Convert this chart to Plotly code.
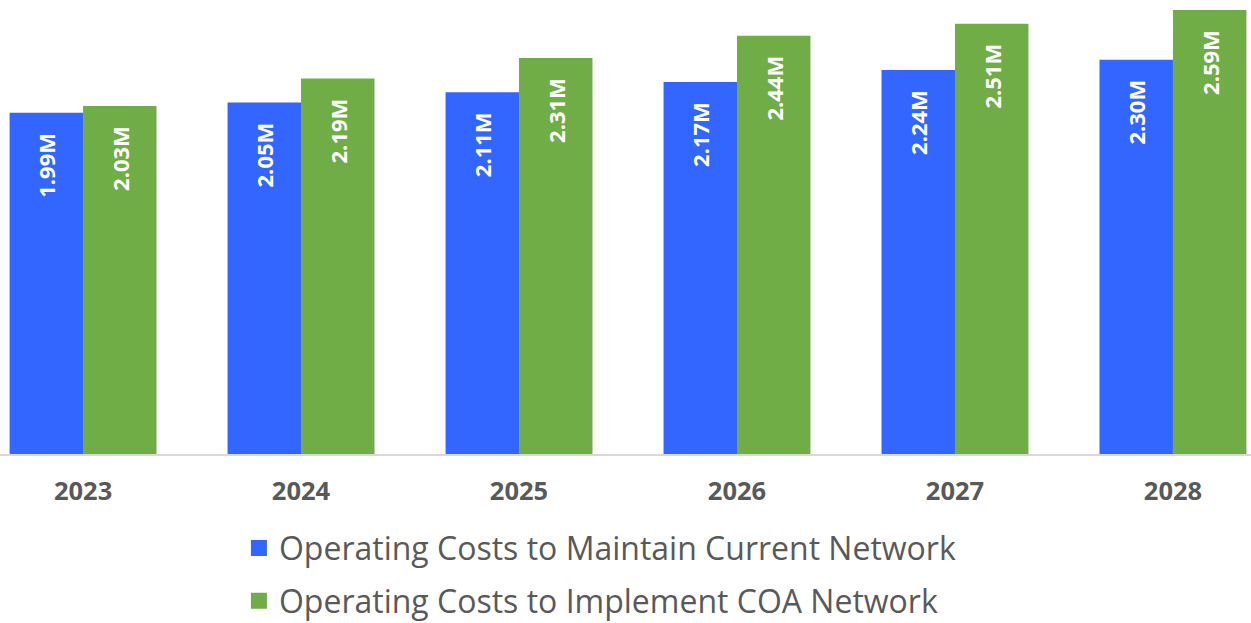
import plotly.graph_objects as go

years = ["2023", "2024", "2025", "2026", "2027", "2028"]
maintain = [1.99, 2.05, 2.11, 2.17, 2.24, 2.30]
coa = [2.03, 2.19, 2.31, 2.44, 2.51, 2.59]
series_names = ["Operating Costs to Maintain Current Network",
                "Operating Costs to Implement COA Network"]
colors = ["#3366FF", "#70AD47"]

font_family = "Open Sans"

fig = go.Figure()
for i, (vals, name, color) in enumerate([(maintain, series_names[0], colors[0]),
                                         (coa, series_names[1], colors[1])]):
    fig.add_trace(go.Bar(
        x=years, y=vals, name=name, showlegend=False,
        marker=dict(color=color, line=dict(width=0)),
        text=[f"{v:.2f}M\u00a0\u00a0\u00a0" for v in vals],
        textposition="inside", insidetextanchor="end", textangle=-90,
        textfont=dict(family=font_family, size=22, color="white", weight="bold"),
        cliponaxis=False,
    ))
    # legend entry with a larger square swatch
    fig.add_trace(go.Scatter(
        x=[None], y=[None], mode="markers", name=name,
        marker=dict(symbol="square", size=18, color=color),
        legend="legend" if i == 0 else "legend2",
    ))

legend_common = dict(orientation="v", xanchor="left", yanchor="middle",
                     font=dict(size=32, color="#595959", family=font_family),
                     itemwidth=30, bgcolor="rgba(0,0,0,0)", borderwidth=0)

fig.update_layout(
    width=1251, height=623,
    margin=dict(l=0, r=0, t=10, b=169, autoexpand=False),
    paper_bgcolor="white", plot_bgcolor="white",
    barmode="group", bargap=0.326, bargroupgap=0,
    font=dict(family=font_family, color="#595959"),
    xaxis=dict(type="category", range=[-0.381, 5.358], showline=True,
               linecolor="#D9D9D9", linewidth=1.5, ticks="", showgrid=False,
               ticklabelstandoff=14,
               tickfont=dict(size=25.5, color="#595959", weight="bold")),
    yaxis=dict(range=[0, 2.59], visible=False, showgrid=False),
    showlegend=True,
    legend=dict(x=0.191, y=-0.212, **legend_common),
    legend2=dict(x=0.191, y=-0.331, **legend_common),
)
fig.write_html("out.html")
